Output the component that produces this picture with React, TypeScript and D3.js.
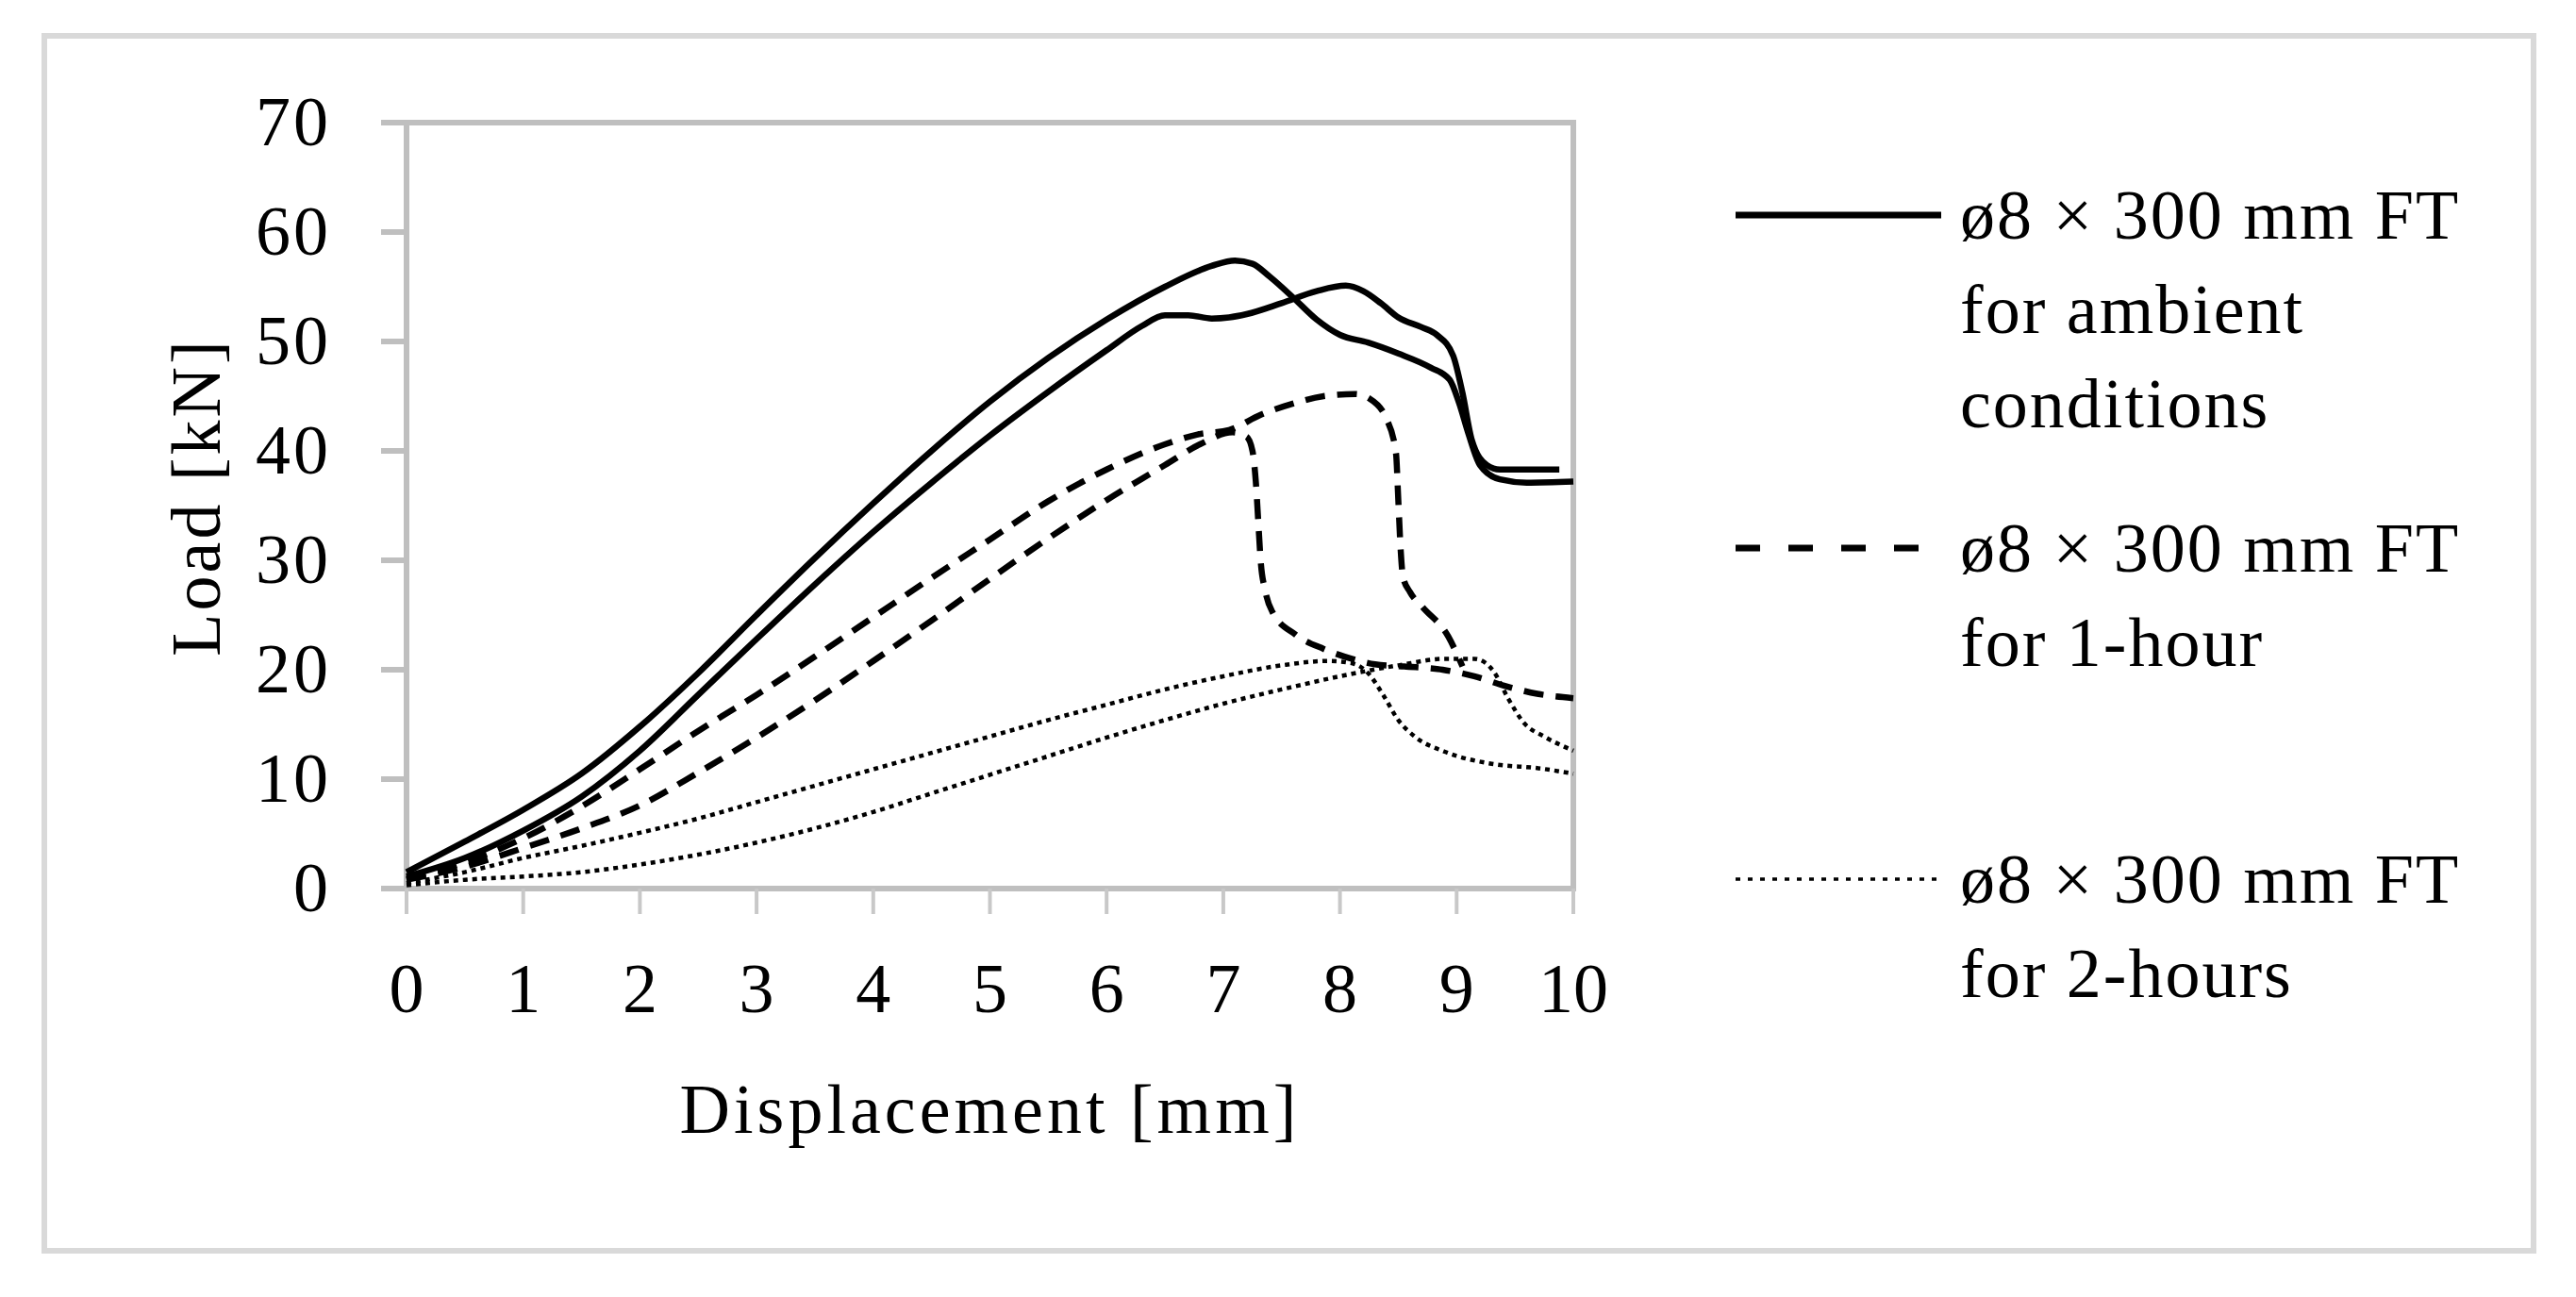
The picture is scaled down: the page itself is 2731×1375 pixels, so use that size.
import React, { useEffect, useRef } from 'react'
import * as d3 from 'd3'

type Pt = [number, number]

// ø8 × 300 mm FT, ambient conditions (two specimens)
const ambient1: Pt[] = [
  [0, 1.5], [0.5, 4.3], [1, 7.2], [1.5, 10.5], [2, 14.8], [2.5, 19.7], [3, 25.0], [3.5, 30.2],
  [4, 35.2], [4.5, 40.0], [5, 44.5], [5.5, 48.5], [6, 52.0], [6.5, 55.0], [6.9, 56.9], [7.1, 57.4],
  [7.25, 57.1], [7.4, 55.9], [7.6, 54.0], [7.8, 52.0], [8.0, 50.6], [8.24, 49.9], [8.5, 48.9],
  [8.78, 47.6], [8.94, 46.5], [9.02, 44.4], [9.1, 41.6], [9.2, 38.7], [9.37, 37.4], [9.6, 37.1], [10, 37.2],
]
const ambient2: Pt[] = [
  [0, 1.1], [0.5, 2.8], [1, 5.3], [1.5, 8.4], [2, 12.6], [2.5, 17.7], [3, 22.8], [3.5, 27.8],
  [4, 32.6], [4.5, 37.1], [5, 41.4], [5.5, 45.4], [6, 49.2], [6.3, 51.4], [6.5, 52.4], [6.7, 52.4],
  [6.9, 52.1], [7.05, 52.2], [7.2, 52.5], [7.5, 53.5], [7.8, 54.6], [8.05, 55.1], [8.2, 54.6],
  [8.35, 53.5], [8.5, 52.2], [8.7, 51.3], [8.83, 50.6], [8.97, 48.7], [9.05, 45.3], [9.13, 41.0],
  [9.26, 38.7], [9.37, 38.3], [9.88, 38.3],
]

// ø8 × 300 mm FT, 1-hour
const hour1a: Pt[] = [
  [0, 0.9], [0.5, 2.4], [1, 4.6], [1.5, 7.5], [2, 10.9], [2.5, 14.4], [3, 17.7], [3.5, 21.2],
  [4, 24.8], [4.5, 28.4], [5, 31.9], [5.5, 35.4], [6, 38.3], [6.5, 40.6],
  [6.78, 41.5], [7.05, 41.9], [7.32, 43.3], [7.59, 44.3], [7.86, 45.0], [8.13, 45.2], [8.25, 44.8],
  [8.4, 42.9], [8.48, 39.8], [8.5, 35.5], [8.52, 31.0], [8.54, 28.5], [8.6, 27.1], [8.71, 25.7],
  [8.93, 23.0], [9.0, 21.5], [9.05, 20.3],
]
const hour1b: Pt[] = [
  [0, 0.8], [0.5, 2.0], [1, 3.7], [1.5, 5.5], [2, 7.6], [2.5, 10.6], [3, 13.8], [3.5, 17.2],
  [4, 20.8], [4.5, 24.5], [5, 28.3], [5.5, 32.0], [6, 35.5], [6.5, 38.7], [6.8, 40.6], [7.08, 41.7],
  [7.2, 41.3], [7.25, 40.0], [7.28, 37.0], [7.3, 33.5], [7.32, 30.0], [7.36, 27.2], [7.42, 25.3],
  [7.62, 23.2], [7.86, 21.9], [8.1, 21.0], [8.3, 20.5], [8.55, 20.3], [8.88, 20.0], [9.15, 19.4],
  [9.42, 18.5], [9.69, 17.8], [10, 17.4],
]

// ø8 × 300 mm FT, 2-hours
const hour2a: Pt[] = [
  [0, 0.5], [0.5, 1.5], [1, 2.8], [1.5, 3.9], [2, 5.1], [2.5, 6.4], [3, 7.9], [3.5, 9.4],
  [4, 10.9], [4.5, 12.4], [5, 13.9], [5.5, 15.4], [6, 16.8], [6.5, 18.2], [7, 19.4],
  [7.5, 20.4], [7.9, 20.8], [8.1, 20.6], [8.24, 19.7], [8.37, 17.7], [8.5, 15.4], [8.64, 13.9],
  [8.9, 12.5], [9.3, 11.4], [9.7, 11.0], [10, 10.5],
]
const hour2b: Pt[] = [
  [0, 0.3], [0.5, 0.8], [1, 1.1], [1.5, 1.5], [2, 2.2], [2.5, 3.1], [3, 4.2], [3.5, 5.5],
  [4, 7.0], [4.5, 8.7], [5, 10.4], [5.5, 12.1], [6, 13.8], [6.5, 15.4], [7, 16.9], [7.5, 18.2],
  [8, 19.4], [8.5, 20.4], [8.9, 21.0], [9.15, 21.0], [9.25, 20.6], [9.32, 19.8],
  [9.44, 17.4], [9.58, 15.1], [9.75, 13.9], [10, 12.6],
]

const xTicks = [0, 1, 2, 3, 4, 5, 6, 7, 8, 9, 10]
const yTicks = [0, 10, 20, 30, 40, 50, 60, 70]

const legendLabels = [
  ['ø8 × 300 mm FT', 'for ambient', 'conditions'],
  ['ø8 × 300 mm FT', 'for 1-hour'],
  ['ø8 × 300 mm FT', 'for 2-hours'],
]

const W = 2731
const H = 1375
const FONT = '"Liberation Serif", "Times New Roman", serif'
const SPACING = 3

const styles = [
  { width: 6.5, dash: null as string | null, legendWidth: 7, legendDash: null as string | null },
  { width: 6.5, dash: '21 13', legendWidth: 7, legendDash: '26 30' },
  { width: 4.5, dash: '5 5', legendWidth: 3.5, legendDash: '5 8' },
]

const App: React.FC = () => {
  const svgRef = useRef<SVGSVGElement>(null)

  useEffect(() => {
    if (!svgRef.current) return
    const svg = d3.select(svgRef.current)
    svg.selectAll('*').remove()

    const plot = { left: 431, right: 1668, top: 130, bottom: 942 }

    const x = d3.scaleLinear().domain([0, 10]).range([plot.left, plot.right])
    const y = d3.scaleLinear().domain([0, 70]).range([plot.bottom, plot.top])

    svg.append('rect').attr('width', W).attr('height', H).attr('fill', '#fff')

    // outer frame
    svg.append('rect')
      .attr('x', 47).attr('y', 38).attr('width', 2639).attr('height', 1288)
      .attr('fill', 'none').attr('stroke', '#d9d9d9').attr('stroke-width', 6)

    // plot area frame
    svg.append('rect')
      .attr('x', plot.left).attr('y', plot.top)
      .attr('width', plot.right - plot.left).attr('height', plot.bottom - plot.top)
      .attr('fill', 'none').attr('stroke', '#bfbfbf').attr('stroke-width', 6)

    // y ticks + labels
    svg.append('g').selectAll('line').data(yTicks).join('line')
      .attr('x1', plot.left - 27).attr('x2', plot.left)
      .attr('y1', d => y(d)).attr('y2', d => y(d))
      .attr('stroke', '#bfbfbf').attr('stroke-width', 6)
    svg.append('g').selectAll('text').data(yTicks).join('text')
      .attr('x', 351).attr('y', d => y(d) + 24)
      .attr('text-anchor', 'end')
      .attr('font-family', FONT).attr('font-size', 74).attr('fill', '#000')
      .attr('letter-spacing', SPACING)
      .text(d => d)

    // x ticks + labels
    svg.append('g').selectAll('line').data(xTicks).join('line')
      .attr('x1', d => x(d)).attr('x2', d => x(d))
      .attr('y1', plot.bottom).attr('y2', plot.bottom + 27)
      .attr('stroke', '#c8c8c8').attr('stroke-width', 4)
    svg.append('g').selectAll('text').data(xTicks).join('text')
      .attr('x', d => x(d)).attr('y', 1073)
      .attr('text-anchor', 'middle')
      .attr('font-family', FONT).attr('font-size', 74).attr('fill', '#000')
      .text(d => d)

    // axis titles
    svg.append('text')
      .attr('x', (plot.left + plot.right) / 2).attr('y', 1201)
      .attr('text-anchor', 'middle')
      .attr('font-family', FONT).attr('font-size', 74).attr('fill', '#000')
      .attr('letter-spacing', SPACING + 1)
      .text('Displacement [mm]')
    svg.append('text')
      .attr('transform', `translate(233,527) rotate(-90)`)
      .attr('text-anchor', 'middle')
      .attr('font-family', FONT).attr('font-size', 74).attr('fill', '#000')
      .attr('letter-spacing', SPACING)
      .text('Load [kN]')

    // curves
    const line = d3.line<Pt>()
      .x(d => x(d[0]))
      .y(d => y(d[1]))
      .curve(d3.curveMonotoneX)

    const series: { data: Pt[]; style: number }[] = [
      { data: hour2b, style: 2 },
      { data: hour2a, style: 2 },
      { data: hour1b, style: 1 },
      { data: hour1a, style: 1 },
      { data: ambient2, style: 0 },
      { data: ambient1, style: 0 },
    ]

    const g = svg.append('g')
    series.forEach(s => {
      const st = styles[s.style]
      g.append('path')
        .attr('d', line(s.data))
        .attr('fill', 'none')
        .attr('stroke', '#000')
        .attr('stroke-width', st.width)
        .attr('stroke-linejoin', 'round')
        .attr('stroke-dasharray', st.dash)
    })

    // legend
    const legendY = [228, 581, 932]
    const lg = svg.append('g')
    legendLabels.forEach((lines, i) => {
      const st = styles[i]
      lg.append('line')
        .attr('x1', 1840).attr('x2', i === 1 ? 2036 : 2058)
        .attr('y1', legendY[i]).attr('y2', legendY[i])
        .attr('stroke', '#000')
        .attr('stroke-width', st.legendWidth)
        .attr('stroke-dasharray', st.legendDash)
      lg.append('text')
        .attr('font-family', FONT).attr('font-size', 74).attr('fill', '#000')
        .attr('letter-spacing', SPACING - 1)
        .selectAll('tspan').data(lines).join('tspan')
        .attr('x', 2078)
        .attr('y', (d, j) => legendY[i] + 25 + j * 100)
        .text(d => d)
    })
  }, [])

  return (
    <svg
      ref={svgRef}
      width={W}
      height={H}
      style={{ position: 'absolute', left: 0, top: 0, display: 'block' }}
    />
  )
}

export default App
